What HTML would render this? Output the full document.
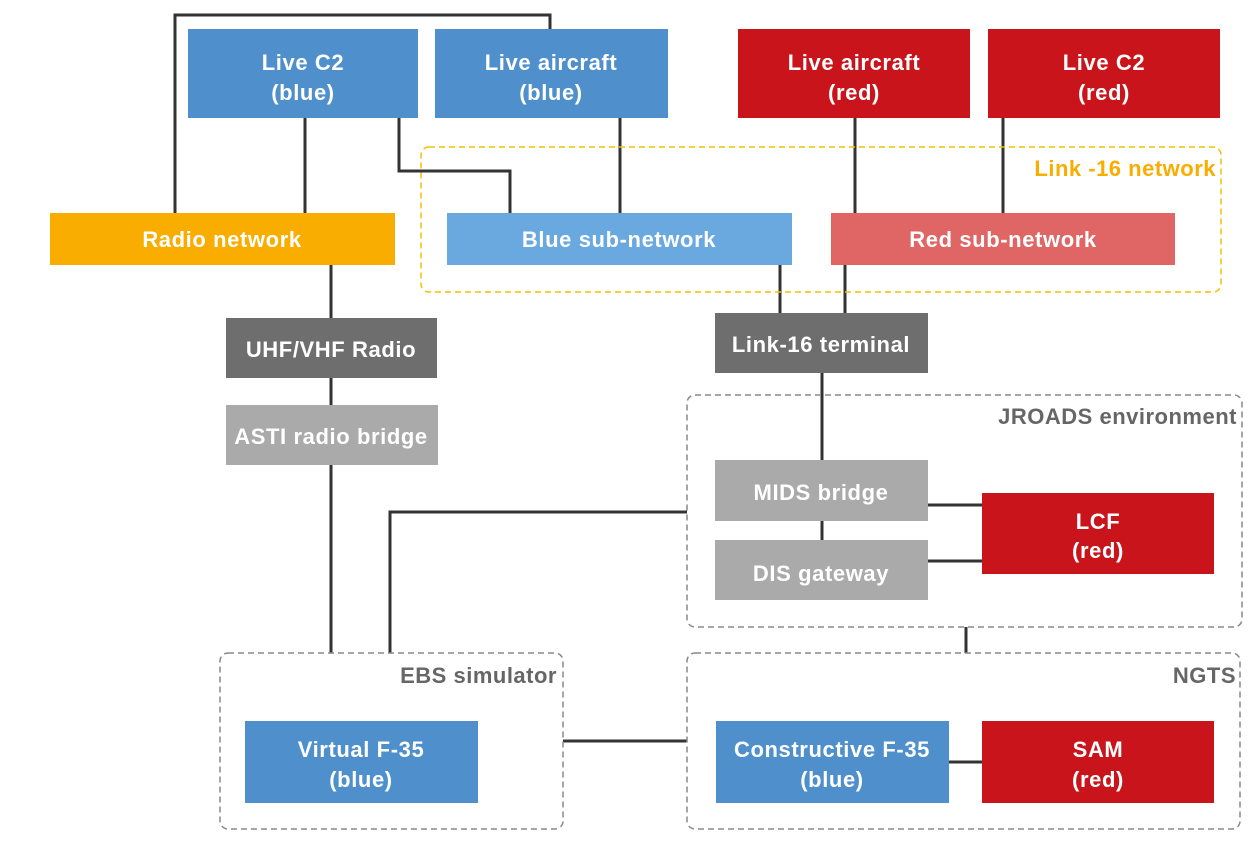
<!DOCTYPE html>
<html><head><meta charset="utf-8"><style>
html,body{margin:0;padding:0;background:#fff;}
svg{display:block;font-family:"Liberation Sans",Arial,sans-serif;font-weight:bold;}
</style></head><body>
<svg width="1249" height="852" viewBox="0 0 1249 852" xmlns="http://www.w3.org/2000/svg">
<g fill="none" stroke="#333" stroke-width="3">
<polyline points="175,213 175,15 550,15 550,29"/>
<line x1="305" y1="118" x2="305" y2="213"/>
<polyline points="399,118 399,171 510,171 510,213"/>
<line x1="620" y1="118" x2="620" y2="213"/>
<line x1="855" y1="118" x2="855" y2="213"/>
<line x1="1003" y1="118" x2="1003" y2="213"/>
<line x1="331" y1="265" x2="331" y2="653"/>
<line x1="780" y1="265" x2="780" y2="313"/>
<line x1="845" y1="265" x2="845" y2="313"/>
<line x1="822" y1="373" x2="822" y2="540"/>
<line x1="928" y1="505" x2="982" y2="505"/>
<line x1="928" y1="561" x2="982" y2="561"/>
<polyline points="390,653 390,512 687,512"/>
<line x1="966" y1="627" x2="966" y2="653"/>
<line x1="563" y1="741" x2="687" y2="741"/>
<line x1="949" y1="762" x2="982" y2="762"/>
</g>
<g fill="none" stroke-width="1.5" stroke-dasharray="6,4">
<rect x="421" y="147" width="800" height="145" rx="8" stroke="#f2c200"/>
<rect x="687" y="395" width="555" height="232" rx="8" stroke="#888"/>
<rect x="220" y="653" width="343" height="176" rx="8" stroke="#888"/>
<rect x="687" y="653" width="553" height="176" rx="8" stroke="#888"/>
</g>
<rect x="188" y="29" width="230" height="89" fill="#4f8fcc"/>
<rect x="435" y="29" width="233" height="89" fill="#4f8fcc"/>
<rect x="738" y="29" width="232" height="89" fill="#c8141a"/>
<rect x="988" y="29" width="232" height="89" fill="#c8141a"/>
<rect x="50" y="213" width="345" height="52" fill="#f9ad00"/>
<rect x="447" y="213" width="345" height="52" fill="#6aa8e0"/>
<rect x="831" y="213" width="344" height="52" fill="#e06666"/>
<rect x="226" y="318" width="211" height="60" fill="#6e6e6e"/>
<rect x="226" y="405" width="212" height="60" fill="#aaaaaa"/>
<rect x="715" y="313" width="213" height="60" fill="#6e6e6e"/>
<rect x="715" y="460" width="213" height="61" fill="#aaaaaa"/>
<rect x="715" y="540" width="213" height="60" fill="#aaaaaa"/>
<rect x="982" y="493" width="232" height="81" fill="#c8141a"/>
<rect x="245" y="721" width="233" height="82" fill="#4f8fcc"/>
<rect x="716" y="721" width="233" height="82" fill="#4f8fcc"/>
<rect x="982" y="721" width="232" height="82" fill="#c8141a"/>
<g fill="#fff" font-size="22" letter-spacing="0.6" text-anchor="middle">
<text x="303" y="70">Live C2</text><text x="303" y="100">(blue)</text>
<text x="551" y="70">Live aircraft</text><text x="551" y="100">(blue)</text>
<text x="854" y="70">Live aircraft</text><text x="854" y="100">(red)</text>
<text x="1104" y="70">Live C2</text><text x="1104" y="100">(red)</text>
<text x="222" y="247">Radio network</text>
<text x="619" y="247">Blue sub-network</text>
<text x="1003" y="247">Red sub-network</text>
<text x="331" y="357">UHF/VHF Radio</text>
<text x="331" y="444">ASTI radio bridge</text>
<text x="821" y="352">Link-16 terminal</text>
<text x="821" y="500">MIDS bridge</text>
<text x="821" y="581">DIS gateway</text>
<text x="1098" y="529">LCF</text><text x="1098" y="558">(red)</text>
<text x="361" y="757">Virtual F-35</text><text x="361" y="787">(blue)</text>
<text x="832" y="757">Constructive F-35</text><text x="832" y="787">(blue)</text>
<text x="1098" y="757">SAM</text><text x="1098" y="787">(red)</text>
</g>
<g font-size="22" letter-spacing="0.5" text-anchor="end">
<text x="1216" y="176" fill="#f9ad00">Link -16 network</text>
<text x="1237" y="424" fill="#666">JROADS environment</text>
<text x="557" y="683" fill="#666">EBS simulator</text>
<text x="1236" y="683" fill="#666">NGTS</text>
</g>
</svg>
</body></html>
